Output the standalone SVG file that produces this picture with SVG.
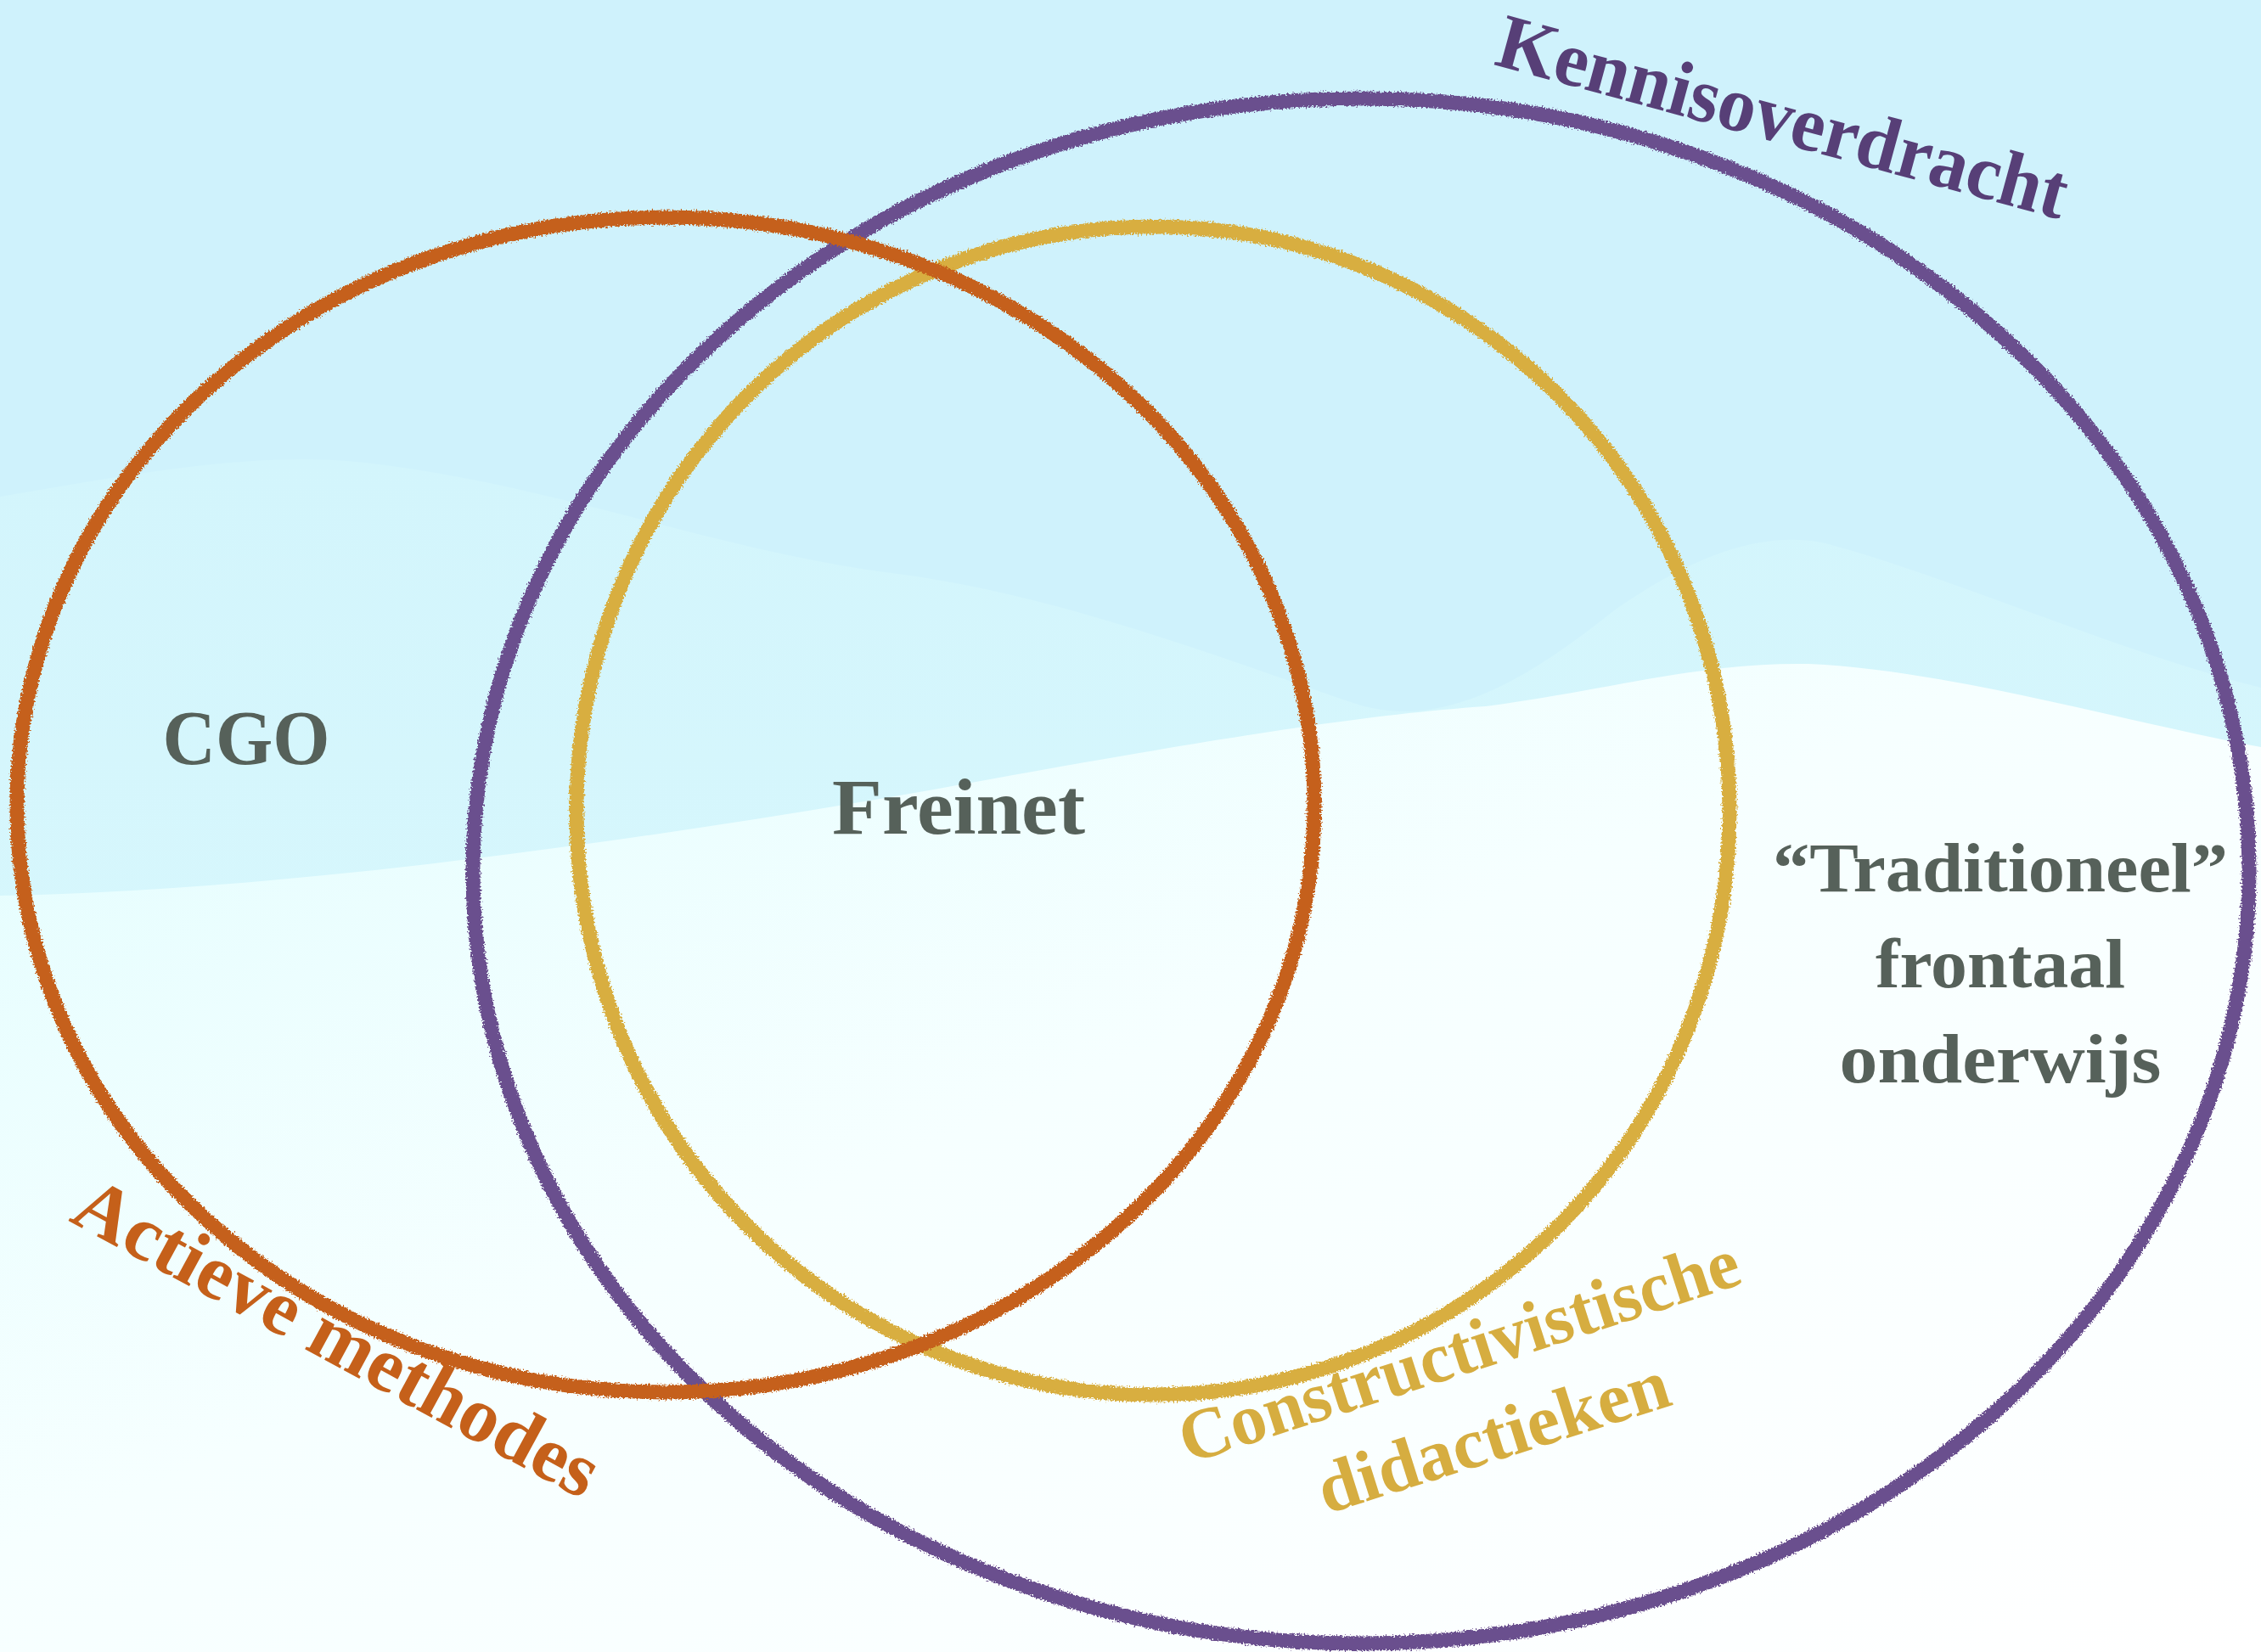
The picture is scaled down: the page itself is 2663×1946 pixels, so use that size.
<svg xmlns="http://www.w3.org/2000/svg" width="2663" height="1946" viewBox="0 0 2663 1946">
  <style>
    .ring { fill: none; stroke-width: 17; filter: url(#chalk); }
    .lbl { font-family: "Liberation Serif", "DejaVu Serif", serif; font-weight: bold; }
    .gray { fill: #56615a; }
  </style>
  <defs>
    <filter id="chalk" x="-5%" y="-5%" width="110%" height="110%">
      <feTurbulence type="fractalNoise" baseFrequency="0.5" numOctaves="2" seed="7" result="noise"/>
      <feDisplacementMap in="SourceGraphic" in2="noise" scale="8" xChannelSelector="R" yChannelSelector="G"/>
    </filter>
    <linearGradient id="lowGrad" x1="0" y1="0" x2="1" y2="1">
      <stop offset="0" stop-color="#e2fdfe"/>
      <stop offset="0.45" stop-color="#f6ffff"/>
      <stop offset="1" stop-color="#ffffff"/>
    </linearGradient>
    <linearGradient id="midGrad" x1="0" y1="0" x2="0" y2="1">
      <stop offset="0" stop-color="#d3f5fc"/>
      <stop offset="1" stop-color="#dbf9fd"/>
    </linearGradient>
  </defs>

  <!-- background -->
  <rect x="0" y="0" width="2663" height="1946" fill="#cff2fc"/>
  <path d="M0,585 C150,560 300,530 430,545 C650,570 850,650 1050,675 C1250,700 1450,780 1600,830 C1700,860 1800,800 1900,720 C2000,650 2080,625 2150,640 C2300,680 2500,770 2663,810 L2663,1946 L0,1946 Z" fill="url(#midGrad)"/>
  <path d="M0,1055 C300,1050 700,1000 1100,930 C1400,875 1600,842 1750,832 C1900,812 2000,780 2130,782 C2300,790 2500,850 2663,880 L2663,1946 L0,1946 Z" fill="url(#lowGrad)"/>

  <g id="connectors"></g>

  <g id="node-kennisoverdracht">
    <ellipse class="ring" cx="1603" cy="1026" rx="1046" ry="910" stroke="#6a4f8e"/>
    <text class="lbl" fill="#573f77" font-size="92" text-anchor="middle" textLength="692" lengthAdjust="spacingAndGlyphs" transform="translate(2092,167) rotate(15.3)">Kennisoverdracht</text>
  </g>

  <g id="node-constructivistische">
    <ellipse class="ring" cx="1358" cy="955" rx="679" ry="688" stroke="#d8ae3f"/>
    <text class="lbl" fill="#d6ad40" font-size="85" text-anchor="middle" textLength="689" lengthAdjust="spacingAndGlyphs" transform="translate(1727,1618) rotate(-18)">Constructivistische</text>
    <text class="lbl" fill="#d6ad40" font-size="85" text-anchor="middle" textLength="430" lengthAdjust="spacingAndGlyphs" transform="translate(1767,1719) rotate(-17.5)">didactieken</text>
  </g>

  <g id="node-actieve-methodes">
    <ellipse class="ring" cx="784" cy="948" rx="764" ry="692" stroke="#c5601a"/>
    <text class="lbl" fill="#c5601a" font-size="92" text-anchor="middle" textLength="690" lengthAdjust="spacingAndGlyphs" transform="translate(383,1602) rotate(28.5)">Actieve methodes</text>
  </g>

  <g id="node-cgo">
    <text class="lbl gray" x="290" y="900" font-size="91" text-anchor="middle" textLength="197" lengthAdjust="spacingAndGlyphs">CGO</text>
  </g>

  <g id="node-freinet">
    <text class="lbl gray" x="1129" y="982" font-size="94" text-anchor="middle" textLength="298" lengthAdjust="spacingAndGlyphs">Freinet</text>
  </g>

  <g id="node-traditioneel">
    <text class="lbl gray" x="2356" y="1050" font-size="83" text-anchor="middle" textLength="536" lengthAdjust="spacingAndGlyphs">“Traditioneel”</text>
    <text class="lbl gray" x="2356" y="1163" font-size="83" text-anchor="middle" textLength="294" lengthAdjust="spacingAndGlyphs">frontaal</text>
    <text class="lbl gray" x="2356" y="1275" font-size="83" text-anchor="middle" textLength="379" lengthAdjust="spacingAndGlyphs">onderwijs</text>
  </g>
</svg>
